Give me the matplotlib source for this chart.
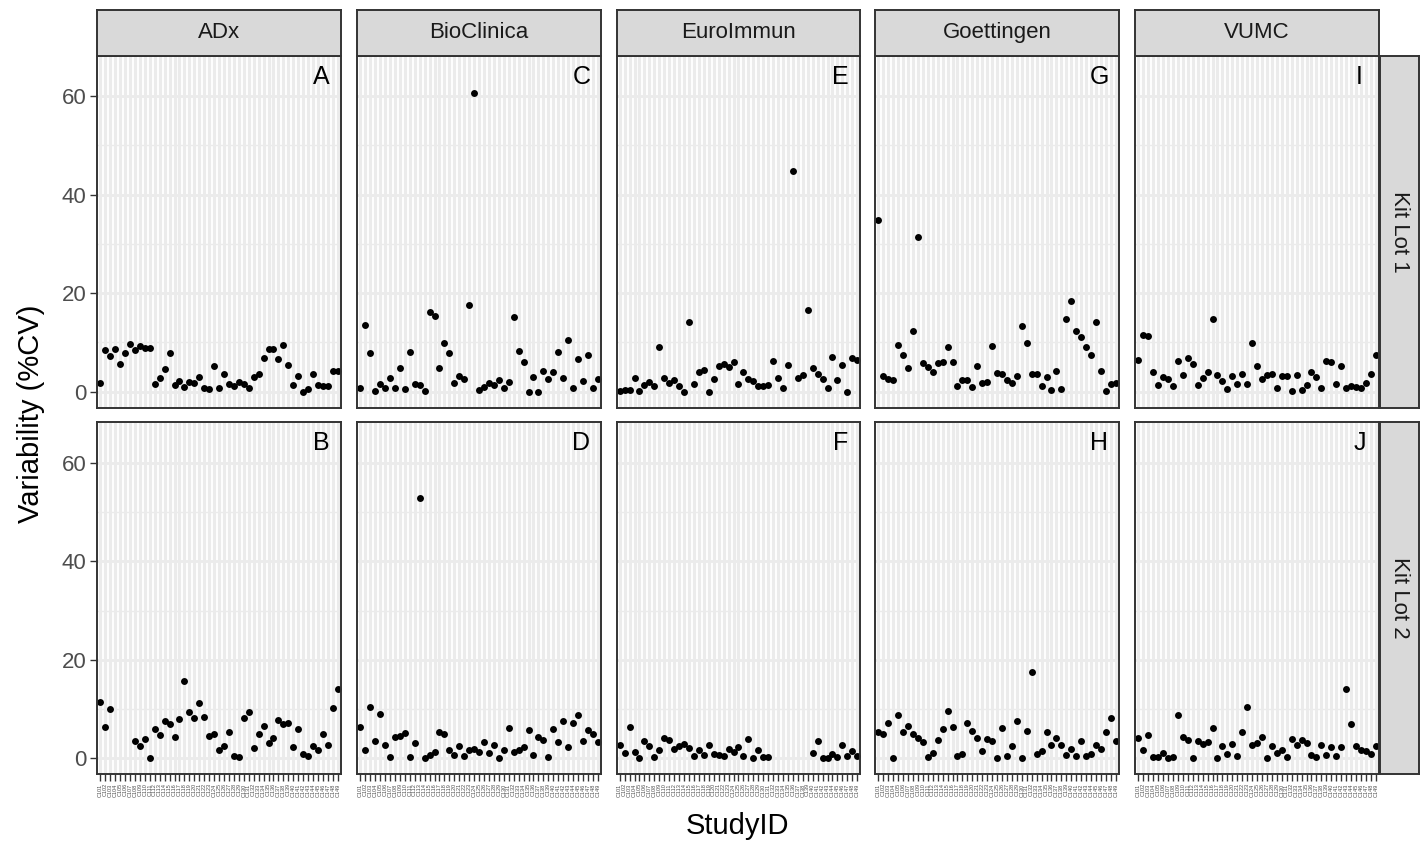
import numpy as np
import matplotlib.pyplot as plt

plt.rcParams['font.family'] = ['Liberation Sans', 'DejaVu Sans']

nan = np.nan

labs = ["ADx", "BioClinica", "EuroImmun", "Goettingen", "VUMC"]
lots = ["Kit Lot 1", "Kit Lot 2"]
panel_letters = [["A", "C", "E", "G", "I"], ["B", "D", "F", "H", "J"]]

study_ids = ("C101 C102 C103 C104 C105 C106 C107 C108 C109 C110 C111 C112 C113 "
             "C114 C115 C116 C117 C118 C119 C120 C121 C122 C123 C124 C125 C126 "
             "C127 C128 C129 C130 C131 C132 C133 C134 C135 C136 C137 C138 C139 "
             "C140 C141 C142 C143 C144 C145 C146 C147 C148 C149").split()

# %CV per study, kit lot 1
adx_lot1 = [1.8, 8.4, 7.2, 8.6, 5.5, 7.9, 9.7, 8.4, 9.3, 8.9, 8.9, 1.6, 2.7, 4.5, 7.8,
            1.3, 2.2, 0.9, 2.0, 1.8, 3.0, 0.8, 0.5, 5.2, 0.8, 3.5, 1.5, 1.1, 2.0, 1.5,
            0.8, 3.0, 3.6, 6.9, 8.6, 8.6, 6.6, 9.4, 5.4, 1.3, 3.2, 0.0, 0.5, 3.6, 1.3,
            1.1, 1.1, 4.1, 4.1]
bio_lot1 = [0.7, 13.6, 7.9, 0.1, 1.5, 0.8, 2.7, 0.8, 4.7, 0.5, 8.0, 1.5, 1.3, 0.1, 16.1,
            15.3, 4.7, 9.9, 7.8, 1.8, 3.2, 2.5, 17.5, 60.7, 0.3, 0.9, 1.8, 1.4, 2.3, 0.7,
            2.0, 15.1, 8.2, 6.0, 0.0, 3.0, 0.0, 4.1, 2.5, 3.9, 8.1, 2.7, 10.4, 0.7, 6.6,
            2.2, 7.4, 0.7, 2.6]
euro_lot1 = [0.1, 0.3, 0.3, 2.7, 0.1, 1.4, 2.0, 1.1, 9.1, 2.7, 1.8, 2.3, 1.1, 0.0, 14.1,
             1.5, 3.9, 4.4, 0.0, 2.5, 5.1, 5.5, 4.9, 6.0, 1.6, 4.0, 2.6, 2.2, 1.1, 1.1,
             1.4, 6.2, 2.8, 0.8, 5.3, 44.7, 2.7, 3.3, 16.5, 4.7, 3.5, 2.5, 0.8, 7.0, 2.3,
             5.4, 0.0, 6.8, 6.4]
goet_lot1 = [34.9, 3.2, 2.5, 2.3, 9.5, 7.4, 4.7, 12.2, 31.4, 5.7, 5.0, 4.0, 5.7, 5.9, 9.1,
             6.0, 1.1, 2.3, 2.4, 1.0, 5.1, 1.7, 2.0, 9.3, 3.7, 3.5, 2.3, 1.7, 3.2, 13.4,
             9.9, 3.5, 3.5, 1.1, 3.0, 0.3, 4.1, 0.6, 14.8, 18.4, 12.2, 11.1, 9.1, 7.4, 14.2,
             4.2, 0.1, 1.6, 1.8]
vumc_lot1 = [6.4, 11.5, 11.3, 3.9, 1.4, 3.0, 2.5, 1.1, 6.2, 3.3, 6.9, 5.5, 1.3, 2.7, 4.0,
             14.7, 3.3, 2.2, 0.5, 3.2, 1.6, 3.6, 1.6, 9.8, 5.1, 2.5, 3.3, 3.6, 0.8, 3.2,
             3.2, 0.1, 3.3, 0.3, 1.4, 4.0, 3.0, 0.8, 6.1, 5.9, 1.5, 5.1, 0.8, 1.1, 0.9,
             0.7, 1.8, 3.5, 7.4]

# %CV per study, kit lot 2
adx_lot2 = [11.4, 6.4, 10.0, nan, nan, nan, nan, 3.6, 2.4, 3.9, 0.1, 6.0, 4.7, 7.5, 6.9,
            4.4, 7.9, 15.8, 9.5, 8.1, 11.2, 8.3, 4.6, 4.9, 1.6, 2.4, 5.4, 0.5, 0.2, 8.1,
            9.4, 2.0, 4.9, 6.6, 3.1, 4.1, 7.7, 7.0, 7.1, 2.2, 6.0, 0.8, 0.5, 2.4, 1.7,
            4.9, 2.8, 10.3, 14.1]
bio_lot2 = [6.3, 1.6, 10.5, 3.6, 9.0, 2.8, 0.2, 4.4, 4.6, 5.1, 0.2, 3.1, 52.9, 0.0, 0.7,
            1.2, 5.4, 4.9, 1.6, 0.7, 2.4, 0.5, 1.6, 1.9, 1.2, 3.3, 1.0, 2.7, 0.0, 1.6,
            6.2, 1.2, 1.6, 2.2, 5.8, 0.7, 4.3, 3.7, 0.2, 6.0, 3.3, 7.5, 2.2, 7.1, 8.7,
            3.6, 5.8, 4.9, 3.3]
euro_lot2 = [2.7, 1.0, 6.4, 1.2, 0.0, 3.6, 2.4, 0.2, 1.7, 4.2, 3.7, 1.9, 2.6, 2.9, 2.0,
             0.5, 1.7, 0.7, 2.7, 0.8, 0.7, 0.5, 1.9, 1.2, 2.2, 0.5, 3.9, 0.1, 1.7, 0.2,
             0.3, nan, nan, nan, nan, nan, nan, nan, nan, 1.0, 3.5, 0.0, 0.0, 0.8, 0.3,
             2.7, 0.5, 1.5, 0.5]
goet_lot2 = [5.4, 4.9, 7.1, 0.0, 8.8, 5.3, 6.6, 4.9, 4.2, 3.4, 0.2, 1.0, 3.7, 6.0, 9.6,
             6.4, 0.5, 0.8, 7.1, 5.6, 4.1, 1.4, 3.9, 3.5, 0.0, 6.1, 0.5, 2.4, 7.6, 0.1,
             5.6, 17.6, 0.8, 1.4, 5.4, 2.8, 4.1, 2.7, 0.7, 1.9, 0.5, 3.5, 0.5, 0.8, 2.7,
             1.9, 5.4, 8.1, 3.5]
vumc_lot2 = [4.1, 1.7, 4.7, 0.2, 0.2, 1.0, 0.0, 0.3, 8.7, 4.3, 3.7, 0.0, 3.6, 2.9, 3.3,
             6.2, 0.1, 2.6, 0.8, 2.9, 0.5, 5.4, 10.4, 2.8, 3.1, 4.4, 0.0, 2.5, 1.0, 1.7,
             0.3, 3.9, 2.7, 3.7, 3.1, 0.7, 0.3, 2.7, 0.7, 2.2, 0.5, 2.2, 14.0, 7.0, 2.6,
             1.6, 1.4, 0.9, 2.6]

cv = [[adx_lot1, bio_lot1, euro_lot1, goet_lot1, vumc_lot1],
      [adx_lot2, bio_lot2, euro_lot2, goet_lot2, vumc_lot2]]

W, H = 1421, 850
fig = plt.figure(figsize=(W / 100, H / 100), dpi=100)

def fig_box(left, top, w, h):
    return [left / W, 1 - (top + h) / H, w / W, h / H]

pan_left = [97.3, 357.3, 616.7, 875.3, 1135.3]
pan_w = 243.5
pan_top = [55.5, 422.3]
pan_h = 352
border = '#333333'
grid_col = '#EBEBEB'
x = np.arange(len(study_ids))

for r in range(2):
    for c in range(5):
        ax = fig.add_axes(fig_box(pan_left[c], pan_top[r], pan_w, pan_h))
        ax.set_axisbelow(True)
        ax.plot(x, cv[r][c], 'o', color='black', ms=5.0, mew=0)
        ax.set_xlim(-0.6, len(study_ids) - 0.4)
        ax.set_ylim(-3.25, 68.25)
        ax.set_xticks(x)
        ax.set_yticks([0, 20, 40, 60])
        ax.set_yticks([10, 30, 50], minor=True)
        ax.grid(which='major', axis='x', color=grid_col, lw=2.3)
        ax.grid(which='major', axis='y', color=grid_col, lw=2.0)
        ax.grid(which='minor', axis='y', color=grid_col, lw=1.0)
        for s in ax.spines.values():
            s.set_color(border)
            s.set_linewidth(1.4)
        ax.tick_params(which='minor', length=0)
        ax.tick_params(which='major', length=5, width=1.0, color=border,
                       labelcolor='#4D4D4D', labelsize=16, pad=3)
        if r == 1:
            ax.set_xticklabels(study_ids, rotation=90, fontsize=4)
            ax.tick_params(axis='x', pad=1.5)
        else:
            ax.tick_params(axis='x', length=0, labelbottom=False)
        if c != 0:
            ax.tick_params(axis='y', length=0, labelleft=False)
        ax.text(0.92, 0.94, panel_letters[r][c], transform=ax.transAxes,
                ha='center', va='center', fontsize=18, color='black')

# column strips
for c in range(5):
    sa = fig.add_axes(fig_box(pan_left[c], 10, pan_w, 45.5))
    sa.set_facecolor('#D9D9D9')
    sa.set_xticks([])
    sa.set_yticks([])
    for s in sa.spines.values():
        s.set_color(border)
        s.set_linewidth(1.4)
    sa.text(0.5, 0.5, labs[c], ha='center', va='center', fontsize=16,
            color='#1A1A1A', transform=sa.transAxes)

# row strips
for r in range(2):
    sa = fig.add_axes(fig_box(1380, pan_top[r], 39, pan_h))
    sa.set_facecolor('#D9D9D9')
    sa.set_xticks([])
    sa.set_yticks([])
    for s in sa.spines.values():
        s.set_color(border)
        s.set_linewidth(1.4)
    sa.text(0.5, 0.5, lots[r], ha='center', va='center', fontsize=16,
            rotation=-90, color='#1A1A1A', transform=sa.transAxes)

fig.text(737.5 / W, 1 - 826 / H, 'StudyID', ha='center', va='center', fontsize=21)
fig.text(31 / W, 1 - 414 / H, 'Variability (%CV)', ha='center', va='center',
         fontsize=21, rotation=90)

fig.savefig('out.png', dpi=100)
